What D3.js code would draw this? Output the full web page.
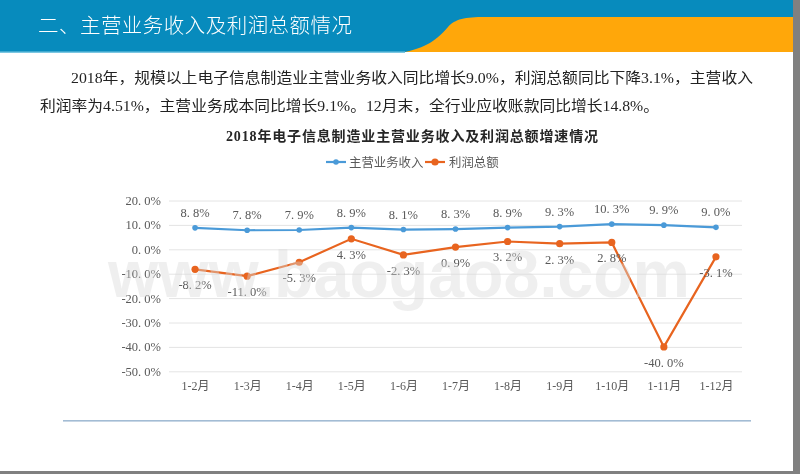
<!DOCTYPE html>
<html><head><meta charset="utf-8">
<script src="https://cdn.jsdelivr.net/npm/d3@7"></script>
<style>html,body{margin:0;padding:0;background:#fff}svg{display:block;filter:blur(.35px)}</style></head>
<body><svg id="c" width="800" height="474"></svg>
<script>
const categories = ["1-2月","1-3月","1-4月","1-5月","1-6月","1-7月","1-8月","1-9月","1-10月","1-11月","1-12月"];
const revenue = [8.8,7.8,7.9,8.9,8.1,8.3,8.9,9.3,10.3,9.9,9.0];
const profit = [-8.2,-11.0,-5.3,4.3,-2.3,0.9,3.2,2.3,2.8,-40.0,-3.1];
const yTicks = [20,10,0,-10,-20,-30,-40,-50];
const seriesNames = ["主营业务收入","利润总额"];
const headerTitle = "二、主营业务收入及利润总额情况";
const chartTitle = "2018年电子信息制造业主营业务收入及利润总额增速情况";
const bodyLines = ["2018年，规模以上电子信息制造业主营业务收入同比增长9.0%，利润总额同比下降3.1%，主营收入","利润率为4.51%，主营业务成本同比增长9.1%。12月末，全行业应收账款同比增长14.8%。"];
const watermark = "www.baogao8.com";

const serif = "'Liberation Serif','Noto Sans CJK SC',serif";
const sans = "'Noto Sans CJK SC',sans-serif";
const BLUE="#4a9ad8", ORANGE="#e8641f", TXT="#595959";
const svg = d3.select("#c");
const plot = {l:169,r:742,t:200.5,b:371.3};

// page furniture
svg.append("rect").attr("width",800).attr("height",52).attr("fill","#078bbd");
svg.append("path").attr("fill","#ffa70a")
  .attr("d","M405,52 C430,47 440,36 448,27 C455,19 465,17 485,17 L800,17 L800,52 Z");
svg.append("rect").attr("y",51.5).attr("width",405).attr("height",1.5).attr("fill","#7cc7e2");
svg.append("text").text(headerTitle).attr("x",38).attr("y",33).attr("fill","#fff")
  .attr("font-family",sans).attr("font-weight",300).attr("font-size",20.5).attr("textLength",314);

bodyLines.forEach((t,i)=>{
  svg.append("text").text(t).attr("x",i?40:71).attr("y",i?111:83).attr("fill","#222")
    .attr("font-family",serif).attr("font-size",14.5)
    .attr("textLength",i?619:682).attr("lengthAdjust","spacingAndGlyphs");
});

svg.append("text").text(chartTitle).attr("x",226).attr("y",141).attr("fill","#262626")
  .attr("font-family",serif).attr("font-weight",700).attr("font-size",14).attr("textLength",372);

// scales
const x = d3.scalePoint().domain(categories).range([plot.l,plot.r]).padding(0.5);
const y = d3.scaleLinear().domain([-50,20]).range([plot.b,plot.t]);
const pct = d=>d3.format(".1f")(d).replace("−","-").replace(".",". ")+"%";

// y grid + labels via axis
const yAxis = svg.append("g").attr("transform",`translate(${plot.l},0)`)
  .call(d3.axisLeft(y).tickValues(yTicks).tickSize(-(plot.r-plot.l)).tickPadding(8).tickFormat(pct));
yAxis.select(".domain").remove();
yAxis.selectAll("line").attr("stroke","#e4e4e4").attr("stroke-width",1);
yAxis.selectAll("text").attr("fill",TXT).attr("font-family",serif).attr("font-size",12.5);

// x labels via axis
const xAxis = svg.append("g").attr("transform",`translate(0,${plot.b})`)
  .call(d3.axisBottom(x).tickSize(0).tickPadding(10));
xAxis.select(".domain").remove();
xAxis.selectAll("text").attr("fill",TXT).attr("font-family",serif).attr("font-size",12);

// series
const line = d3.line().x((d,i)=>x(categories[i])).y(d=>y(d));
function series(vals,color,r,dy){
  svg.append("path").datum(vals).attr("d",line).attr("fill","none").attr("stroke",color).attr("stroke-width",2.2);
  svg.append("g").selectAll("circle").data(vals).join("circle")
    .attr("cx",(d,i)=>x(categories[i])).attr("cy",d=>y(d)).attr("r",r).attr("fill",color);
  svg.append("g").selectAll("text").data(vals).join("text")
    .attr("x",(d,i)=>x(categories[i])).attr("y",d=>y(d)+dy).attr("text-anchor","middle")
    .attr("fill",TXT).attr("font-family",serif).attr("font-size",12.5)
    .text(pct);
}
series(revenue,BLUE,2.8,-11);
series(profit,ORANGE,3.6,20);

// legend
const lg = [{c:BLUE,r:2.8,x:326,t:349},{c:ORANGE,r:3.6,x:425,t:449}];
lg.forEach((o,i)=>{
  svg.append("line").attr("x1",o.x).attr("x2",o.x+20).attr("y1",162).attr("y2",162).attr("stroke",o.c).attr("stroke-width",2.2);
  svg.append("circle").attr("cx",o.x+10).attr("cy",162).attr("r",o.r).attr("fill",o.c);
  svg.append("text").text(seriesNames[i]).attr("x",o.t).attr("y",166.5).attr("fill",TXT)
    .attr("font-family",sans).attr("font-size",12.4);
});

// rule under chart
svg.append("rect").attr("x",63).attr("y",420).attr("width",688).attr("height",1.6).attr("fill","#a3bcd4");

// watermark
svg.append("text").text(watermark).attr("x",108).attr("y",297).attr("fill","#d8d8d8").attr("fill-opacity",.42)
  .attr("font-family","'Liberation Sans',sans-serif").attr("font-weight",700).attr("font-size",66)
  .attr("textLength",582).attr("lengthAdjust","spacingAndGlyphs");

// page edge
svg.append("rect").attr("x",793).attr("width",7).attr("height",474).attr("fill","#808080");
svg.append("rect").attr("y",471).attr("width",800).attr("height",3).attr("fill","#808080");
</script></body></html>
